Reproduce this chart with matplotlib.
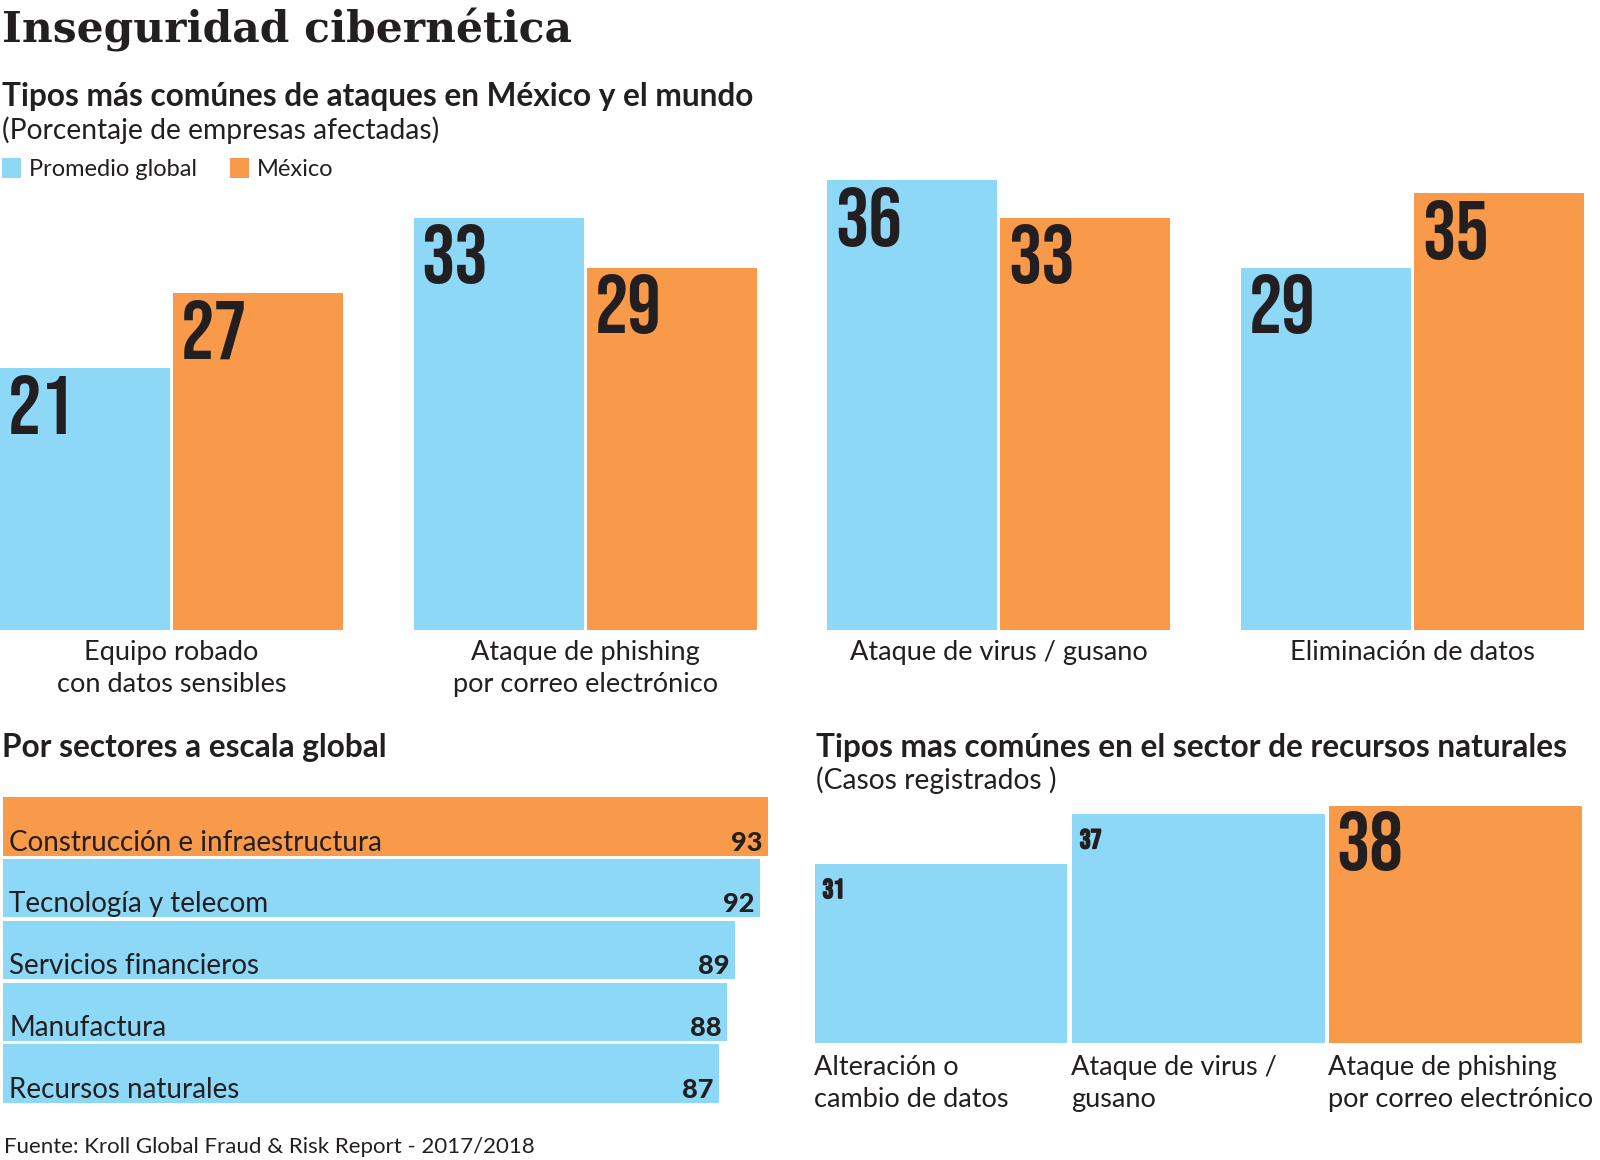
import matplotlib
matplotlib.use('Agg')
from matplotlib import pyplot as plt
from matplotlib import font_manager
from matplotlib import patheffects
from matplotlib.patches import Patch
import numpy as np

W, H = 1600, 1160

BLUE = '#8DD7F7'
ORANGE = '#F89A4A'
INK = '#231F20'

# datos: tipos de ataque, Mexico vs promedio global (% de empresas)
attack_types = ['Equipo robado\ncon datos sensibles',
                'Ataque de phishing\npor correo electrónico',
                'Ataque de virus / gusano',
                'Eliminación de datos']
global_avg = [21, 33, 36, 29]
mexico = [27, 29, 33, 35]
series_names = ['Promedio global', 'México']

# por sectores a escala global
sectors = ['Construcción e infraestructura', 'Tecnología y telecom',
           'Servicios financieros', 'Manufactura', 'Recursos naturales']
sector_values = [93, 92, 89, 88, 87]

# sector de recursos naturales (casos registrados)
nat_types = ['Alteración o\ncambio de datos', 'Ataque de virus /\ngusano',
             'Ataque de phishing\npor correo electrónico']
nat_cases = [31, 37, 38]


def pick_font(names):
    available = {f.name for f in font_manager.fontManager.ttflist}
    for n in names:
        if n in available:
            return n
    return 'DejaVu Sans'


def find_file(basenames):
    by_base = {f.fname.split('/')[-1]: f.fname for f in font_manager.fontManager.ttflist}
    for b in basenames:
        if b in by_base:
            return by_base[b]
    return None


SANS = pick_font(['Lato', 'Open Sans', 'Noto Sans'])
SERIF = pick_font(['DejaVu Serif', 'Liberation Serif'])
# numeros grandes en fuente condensada
COND_FILE = find_file(['BebasNeue-Regular.ttf', 'Anton-Regular.ttf', 'AsapCondensed-Bold.ttf'])


def num_font(size):
    if COND_FILE:
        return font_manager.FontProperties(fname=COND_FILE, size=size)
    return font_manager.FontProperties(family='DejaVu Sans', weight='bold', stretch='condensed',
                                       size=size * 0.8)


def px_axes(fig, x0, y0, x1, y1):
    ax = fig.add_axes([x0 / W, 1 - y1 / H, (x1 - x0) / W, (y1 - y0) / H])
    ax.axis('off')
    return ax


def px_text(fig, x, y, s, **kw):
    return fig.text(x / W, 1 - y / H, s, va='baseline', color=INK, **kw)


fig = plt.figure(figsize=(W / 100, H / 100), dpi=100)
fig.patch.set_facecolor('white')

# titulos
px_text(fig, 2, 43, 'Inseguridad cibernética', family=SERIF, fontweight='bold', fontsize=30.5)
px_text(fig, 2, 106, 'Tipos más comúnes de ataques en México y el mundo',
        family=SANS, fontweight='bold', fontsize=22.8)
px_text(fig, 2, 139, '(Porcentaje de empresas afectadas)', family=SANS, fontsize=20.3)

handles = [Patch(facecolor=BLUE, edgecolor='none', label=series_names[0]),
           Patch(facecolor=ORANGE, edgecolor='none', label=series_names[1])]
fig.legend(handles=handles, loc='upper left', bbox_to_anchor=(2 / W, 1 - 158 / H),
           ncol=2, frameon=False, borderpad=0, borderaxespad=0,
           handlelength=0.8, handleheight=0.9, handletextpad=0.35,
           columnspacing=1.4, prop={'family': SANS, 'size': 17}, labelcolor=INK)

# grafica 1: barras agrupadas
ax = px_axes(fig, 0, 130, W, 630)
P = 413.7
c0 = 171.5
ax.set_xlim(-c0 / P, (W - c0) / P)
ax.set_ylim(0, 40)
x = np.arange(len(attack_types))
off = 86.5 / P
bw = 170 / P
b1 = ax.bar(x - off, global_avg, bw, color=BLUE)
b2 = ax.bar(x + off, mexico, bw, color=ORANGE)
for bars in (b1, b2):
    for r in bars:
        ax.annotate(f'{r.get_height():.0f}', xy=(r.get_x(), r.get_height()),
                    xytext=(8, -66), textcoords='offset pixels', ha='left', va='baseline',
                    fontproperties=num_font(60), color=INK)
for i, lab in enumerate(attack_types):
    for j, line in enumerate(lab.split('\n')):
        ax.annotate(line, xy=(i, 0), xytext=(0, -30 - 32 * j), textcoords='offset pixels',
                    ha='center', va='baseline', fontsize=19.5, family=SANS, color=INK,
                    annotation_clip=False)

# grafica 2: por sectores
px_text(fig, 2, 757, 'Por sectores a escala global', family=SANS, fontweight='bold', fontsize=22.8)
ax2 = px_axes(fig, 3, 795.6, 3 + 8.23 * 95, 1104.4)
ax2.set_xlim(0, 95)
ax2.set_ylim(len(sectors) - 0.5, -0.5)
hcols = [ORANGE if v == max(sector_values) else BLUE for v in sector_values]
ax2.barh(np.arange(len(sectors)), sector_values, height=0.94, color=hcols)
for i, (lab, v) in enumerate(zip(sectors, sector_values)):
    ax2.annotate(lab, xy=(0, i + 0.47), xytext=(6, 5), textcoords='offset pixels',
                 ha='left', va='baseline', fontsize=20, family=SANS, color=INK)
    ax2.annotate(str(v), xy=(v, i + 0.47), xytext=(-6, 5), textcoords='offset pixels',
                 ha='right', va='baseline', fontsize=19.5, fontweight='black', family=SANS,
                 color=INK)

# grafica 3: recursos naturales
px_text(fig, 816, 757, 'Tipos mas comúnes en el sector de recursos naturales',
        family=SANS, fontweight='bold', fontsize=22.8)
px_text(fig, 816, 789, '(Casos registrados )', family=SANS, fontsize=20.3)
ax3 = px_axes(fig, 812.4, 748, 1584, 1043)
ax3.set_xlim(-0.5, len(nat_types) - 0.5)
ax3.set_ylim(9.4, 45)
ncols = [ORANGE if v == max(nat_cases) else BLUE for v in nat_cases]
nb = ax3.bar(np.arange(len(nat_types)), nat_cases, width=0.983, color=ncols)
bold_fx = [patheffects.withStroke(linewidth=1.2, foreground=INK)]
for r, v, lab in zip(nb, nat_cases, nat_types):
    if v == max(nat_cases):
        ax3.annotate(str(v), xy=(r.get_x(), v), xytext=(7, -64), textcoords='offset pixels',
                     ha='left', va='baseline', fontproperties=num_font(60), color=INK)
    else:
        ax3.annotate(str(v), xy=(r.get_x(), v), xytext=(8, -34), textcoords='offset pixels',
                     ha='left', va='baseline', fontproperties=num_font(19.5), color=INK,
                     path_effects=bold_fx)
    for j, line in enumerate(lab.split('\n')):
        ax3.annotate(line, xy=(r.get_x(), 9.4), xytext=(-1, -32 - 32 * j), textcoords='offset pixels',
                     ha='left', va='baseline', fontsize=19.5, family=SANS, color=INK,
                     annotation_clip=False)

px_text(fig, 4, 1153, 'Fuente: Kroll Global Fraud & Risk Report - 2017/2018', family=SANS, fontsize=16)

fig.savefig('out.png', dpi=100, facecolor='white')
